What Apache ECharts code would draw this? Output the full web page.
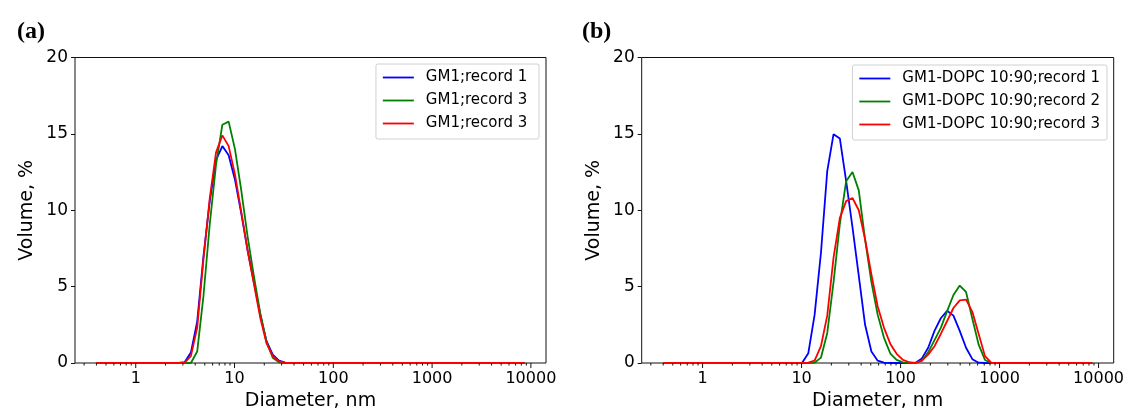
<!DOCTYPE html>
<html>
<head>
<meta charset="utf-8">
<script src="https://cdn.jsdelivr.net/npm/echarts@6/dist/echarts.min.js"></script>
<style>
html,body{margin:0;padding:0;background:#fff;}
#c{width:1127px;height:416px;}
</style>
</head>
<body>
<div id="c"></div>
<script>
// Diameter bins (nm)
var diameters = [0.4, 0.4632, 0.5365, 0.6213, 0.7195, 0.8332, 0.9649, 1.117, 1.294, 1.499, 1.736, 2.01, 2.328, 2.696, 3.122, 3.615, 4.187, 4.849, 5.615, 6.503, 7.531, 8.721, 10.1, 11.7, 13.54, 15.69, 18.17, 21.04, 24.36, 28.21, 32.67, 37.84, 43.82, 50.75, 58.77, 68.06, 78.82, 91.28, 105.7, 122.4, 141.8, 164.2, 190.1, 220.2, 255, 295.3, 342, 396.1, 458.7, 531.2, 615.1, 712.4, 825, 955.4, 1106, 1281, 1484, 1718, 1990, 2305, 2669, 3091, 3580, 4145, 4801, 5560, 6439, 7456, 8635];

// Panel (a)
var aNames = ['GM1;record 1', 'GM1;record 3', 'GM1;record 3'];
var aRec1 = [0,0,0,0,0,0,0,0,0,0,0,0,0,0, 0.05,0.68,2.7,7.0,10.6,13.3,14.2,13.6,12.0,9.8,7.4,5.3,3.2,1.45,0.55,0.15,0.02, 0,0,0,0,0,0,0,0,0,0,0,0,0,0,0,0,0,0,0,0,0,0,0,0,0,0,0,0,0,0,0,0,0,0,0,0,0,0];
var aRec2 = [0,0,0,0,0,0,0,0,0,0,0,0,0,0, 0,0,0.75,4.4,9.1,13.0,15.6,15.8,14.0,11.3,8.3,5.7,3.3,1.4,0.35,0.05,0, 0,0,0,0,0,0,0,0,0,0,0,0,0,0,0,0,0,0,0,0,0,0,0,0,0,0,0,0,0,0,0,0,0,0,0,0,0,0];
var aRec3 = [0,0,0,0,0,0,0,0,0,0,0,0,0,0, 0.02,0.45,2.3,6.8,10.8,13.8,14.9,14.2,12.35,9.9,7.4,5.2,3.0,1.3,0.45,0.1,0.01, 0,0,0,0,0,0,0,0,0,0,0,0,0,0,0,0,0,0,0,0,0,0,0,0,0,0,0,0,0,0,0,0,0,0,0,0,0,0];

// Panel (b)
var bNames = ['GM1-DOPC 10:90;record 1', 'GM1-DOPC 10:90;record 2', 'GM1-DOPC 10:90;record 3'];
var bRec1 = [0,0,0,0,0,0,0,0,0,0,0,0,0,0,0,0,0,0,0,0,0,0, 0,0.64,3.15,7.2,12.56,14.98,14.7,11.9,8.9,5.7,2.5,0.75,0.15,0.02,0,0,0,0,0.02,0.3,1.0,2.1,2.93,3.42,3.1,2.1,1.0,0.25,0.02,0,0,0, 0,0,0,0,0,0,0,0,0,0,0,0,0,0,0];
var bRec2 = [0,0,0,0,0,0,0,0,0,0,0,0,0,0,0,0,0,0,0,0,0,0, 0,0,0.02,0.35,1.97,5.3,9.1,11.9,12.5,11.3,8.07,5.3,3.15,1.65,0.62,0.2,0.04,0,0,0.15,0.7,1.5,2.3,3.4,4.45,5.07,4.65,2.9,1.2,0.2,0,0, 0,0,0,0,0,0,0,0,0,0,0,0,0,0,0];
var bRec3 = [0,0,0,0,0,0,0,0,0,0,0,0,0,0,0,0,0,0,0,0,0,0, 0,0.02,0.15,1.1,3.1,6.9,9.5,10.6,10.8,10.0,8.1,5.8,3.7,2.3,1.25,0.6,0.2,0.05,0,0.15,0.55,1.1,1.9,2.75,3.6,4.1,4.15,3.35,1.9,0.45,0.02,0, 0,0,0,0,0,0,0,0,0,0,0,0,0,0,0];

var colors = ['#0000ff', '#008000', '#ff0000'];
var yTicks = [0, 5, 10, 15, 20];
var xMajorTicks = [1, 10, 100, 1000, 10000];
var xMinorTicks = [0.3, 0.4, 0.5, 0.6, 0.7, 0.8, 0.9, 2, 3, 4, 5, 6, 7, 8, 9, 20, 30, 40, 50, 60, 70, 80, 90, 200, 300, 400, 500, 600, 700, 800, 900, 2000, 3000, 4000, 5000, 6000, 7000, 8000, 9000];
var panelLabels = ['(a)', '(b)'];
var xTitle = 'Diameter, nm';
var yTitle = 'Volume, %';

var FONT = 'DejaVu Sans';
var xMin = 0.2427, xMax = 14223;

function pairs(vals) { return diameters.map(function (d, i) { return [d, vals[i]]; }); }

var grids = [
  { left: 75, right: 581, top: 57.5, bottom: 47, show: true, borderColor: '#111', borderWidth: 1, backgroundColor: 'transparent' },
  { left: 641.7, right: 13, top: 57.5, bottom: 47, show: true, borderColor: '#111', borderWidth: 1, backgroundColor: 'transparent' }
];

function xAxisFor(gi) {
  return {
    type: 'log', logBase: 10, gridIndex: gi, min: xMin, max: xMax,
    axisLine: { show: false },
    axisTick: { show: false },
    splitLine: { show: false },
    minorTick: { show: false },
    axisLabel: {
      show: true, margin: 8, color: '#000', fontFamily: FONT, fontSize: 16,
      showMinLabel: false, showMaxLabel: false,
      formatter: function (v) {
        for (var i = 0; i < xMajorTicks.length; i++) {
          if (Math.abs(v - xMajorTicks[i]) / xMajorTicks[i] < 1e-6) return String(xMajorTicks[i]);
        }
        return '';
      }
    },
    name: xTitle, nameLocation: 'middle', nameGap: 29,
    nameTextStyle: { color: '#000', fontFamily: FONT, fontSize: 19 }
  };
}
function yAxisFor(gi) {
  return {
    type: 'value', gridIndex: gi, min: 0, max: 20, interval: 5,
    axisLine: { show: false },
    axisTick: { show: true, inside: false, length: 4, lineStyle: { color: '#111', width: 1 } },
    splitLine: { show: false },
    axisLabel: { color: '#000', fontFamily: FONT, fontSize: 17, margin: 7 },
    name: yTitle, nameLocation: 'middle', nameGap: 38,
    nameTextStyle: { color: '#000', fontFamily: FONT, fontSize: 19 }
  };
}

function lineSeries(name, vals, color, gi) {
  return {
    type: 'line', name: name, xAxisIndex: gi, yAxisIndex: gi,
    data: pairs(vals), symbol: 'none', showSymbol: false, smooth: false,
    lineStyle: { color: color, width: 1.8 }, itemStyle: { color: color },
    animation: false, z: 3
  };
}

function tickSeries(gi) {
  var data = xMajorTicks.map(function (v) { return [v, 0, 5]; })
    .concat(xMinorTicks.map(function (v) { return [v, 0, 2.5]; }));
  return {
    type: 'custom', xAxisIndex: gi, yAxisIndex: gi, data: data, clip: false, silent: true,
    animation: false, z: 5,
    renderItem: function (params, api) {
      var p = api.coord([api.value(0), 0]);
      var len = api.value(2);
      return { type: 'line', shape: { x1: p[0], y1: p[1], x2: p[0], y2: p[1] + len },
        style: { stroke: '#111', lineWidth: 1 } };
    }
  };
}

var legendCommon = {
  orient: 'vertical', itemWidth: 31, itemHeight: 14, itemGap: 8,
  itemStyle: { opacity: 0 },
  lineStyle: { width: 1.8 },
  padding: [6, 7, 8, 6],
  borderColor: '#d0d0d0', borderWidth: 1, borderRadius: 2,
  backgroundColor: 'rgba(255,255,255,0.8)',
  textStyle: { color: '#000', fontFamily: FONT, fontSize: 15, padding: [0, 0, 0, 7] },
  align: 'left'
};

var option = {
  backgroundColor: '#fff',
  animation: false,
  title: [
    { text: panelLabels[0], left: 12, top: 15, textStyle: { fontFamily: 'Liberation Serif', fontWeight: 'bold', fontSize: 24, color: '#000' } },
    { text: panelLabels[1], left: 577, top: 15, textStyle: { fontFamily: 'Liberation Serif', fontWeight: 'bold', fontSize: 24, color: '#000' } }
  ],
  grid: grids,
  xAxis: [xAxisFor(0), xAxisFor(1)],
  yAxis: [yAxisFor(0), yAxisFor(1)],
  legend: [
    Object.assign({}, legendCommon, { data: [aNames[0], aNames[1] + ' ', aNames[2]], right: 588, top: 64 }),
    Object.assign({}, legendCommon, { data: bNames, right: 20, top: 65 })
  ],
  series: [
    lineSeries(aNames[0], aRec1, colors[0], 0),
    lineSeries(aNames[1] + ' ', aRec2, colors[1], 0),
    lineSeries(aNames[2], aRec3, colors[2], 0),
    lineSeries(bNames[0], bRec1, colors[0], 1),
    lineSeries(bNames[1], bRec2, colors[1], 1),
    lineSeries(bNames[2], bRec3, colors[2], 1),
    tickSeries(0),
    tickSeries(1)
  ]
};

var chart = echarts.init(document.getElementById('c'), null, { renderer: 'canvas' });
chart.setOption(option);
</script>
</body>
</html>
